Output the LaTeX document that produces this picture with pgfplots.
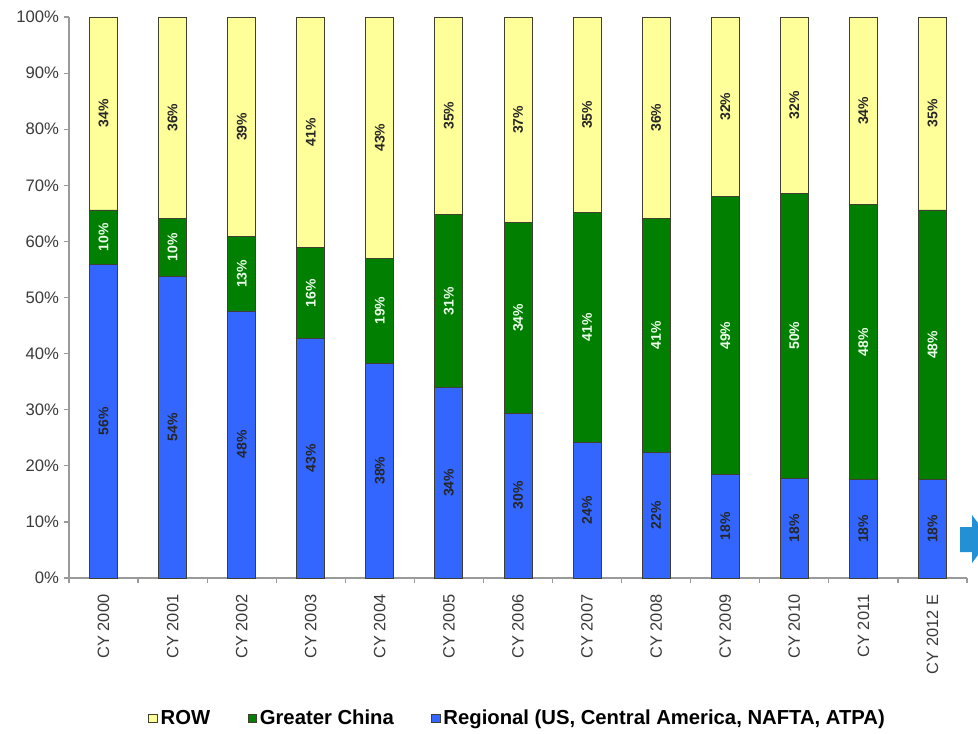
\documentclass[border=0pt]{standalone}
\usepackage{fontspec}
\setmainfont{Liberation Sans}
\usepackage{pgfplots}
\usepackage{pgfplotstable}
\pgfplotsset{compat=1.18}
\definecolor{rowY}{HTML}{FFFF99}
\definecolor{chnG}{HTML}{007F00}
\definecolor{regB}{HTML}{3366FF}
\definecolor{axisG}{HTML}{9A9A9A}
\definecolor{txtG}{HTML}{3A3A3A}
\definecolor{arrowB}{HTML}{2390D6}
\definecolor{edgeC}{HTML}{404030}

\pgfplotstableread{
x reg chn row lreg lchn lrow
0 55.8 9.8 34.4 56 10 34
1 53.8 10.3 35.9 54 10 36
2 47.6 13.2 39.2 48 13 39
3 42.7 16.2 41.1 43 16 41
4 38.3 18.7 43.0 38 19 43
5 33.9 30.9 35.2 34 31 35
6 29.4 33.9 36.7 30 34 37
7 24.2 40.9 34.9 24 41 35
8 22.4 41.7 35.9 22 41 36
9 18.4 49.6 32.0 18 49 32
10 17.8 50.8 31.4 18 50 32
11 17.5 49.0 33.5 18 48 34
12 17.5 48.1 34.4 18 48 35
}\data

\begin{document}
\begin{tikzpicture}
\begin{axis}[
  scale only axis, width=673.5pt, height=420.75pt,
  ybar stacked, bar width=21pt,
  xmin=-0.5, xmax=12.5, ymin=0, ymax=100,
  axis x line*=bottom, axis y line*=left,
  axis line style={draw=axisG, line width=1.1pt},
  tick align=outside,
  xtick={0,...,12},
  xticklabels={CY 2000,CY 2001,CY 2002,CY 2003,CY 2004,CY 2005,CY 2006,CY 2007,CY 2008,CY 2009,CY 2010,CY 2011,CY 2012 E},
  x tick label style={yshift=-5pt, rotate=90, anchor=east, font=\fontsize{12.3}{14}\selectfont, text=txtG},
  major x tick style={draw=none},
  minor xtick={-0.5,0.5,...,12.5},
  minor x tick style={draw=axisG, line width=0.9pt},
  minor tick length=4pt,
  ytick={0,10,...,100},
  yticklabel={\pgfmathprintnumber{\tick}\%},
  y tick label style={font=\fontsize{12.5}{14}\selectfont, text=txtG},
  y tick style={draw=axisG, line width=0.9pt},
  major tick length=4pt,
  /pgf/number format/assume math mode=true,
  point meta=explicit symbolic,
  nodes near coords={\pgfplotspointmeta\%},
  legend columns=3,
  reverse legend,
  legend style={draw=none, fill=none, at={(0.5,-0.2496)}, anchor=center,
    font=\fontsize{15.2}{17}\selectfont\bfseries, text=black,
    /tikz/every even column/.append style={column sep=26pt}},
  legend image code/.code={\draw[#1] (0pt,-3.5pt) rectangle (6.5pt,3pt);},
]
\addplot[fill=regB, draw=edgeC, line width=0.7pt,
  every node near coord/.append style={rotate=90, anchor=center, font=\fontsize{10.5}{12}\selectfont\bfseries, text=black!85}]
  table[x=x, y=reg, meta=lreg] {\data};
\addplot[fill=chnG, draw=edgeC, line width=0.7pt,
  every node near coord/.append style={rotate=90, anchor=center, font=\fontsize{10.5}{12}\selectfont\bfseries, text=white!92!green}]
  table[x=x, y=chn, meta=lchn] {\data};
\addplot[fill=rowY, draw=edgeC, line width=0.7pt,
  every node near coord/.append style={rotate=90, anchor=center, font=\fontsize{10.5}{12}\selectfont\bfseries, text=black!85}]
  table[x=x, y=row, meta=lrow] {\data};
\legend{{Regional (US, Central America, NAFTA, ATPA)},{Greater China},{ROW}}
\end{axis}
\fill[arrowB] ([xshift=-5.25pt,yshift=19.5pt]current axis.south east) -- ([xshift=3.75pt,yshift=19.5pt]current axis.south east) -- ([xshift=3.75pt,yshift=11.25pt]current axis.south east) -- ([xshift=17.25pt,yshift=29.25pt]current axis.south east) -- ([xshift=3.75pt,yshift=47.25pt]current axis.south east) -- ([xshift=3.75pt,yshift=38.25pt]current axis.south east) -- ([xshift=-5.25pt,yshift=38.25pt]current axis.south east) -- cycle;
\pgfresetboundingbox
\path[use as bounding box] ([xshift=-51.75pt, yshift=-116.25pt]current axis.south west) rectangle ([xshift=8.25pt, yshift=12.75pt]current axis.north east);
\end{tikzpicture}
\end{document}
